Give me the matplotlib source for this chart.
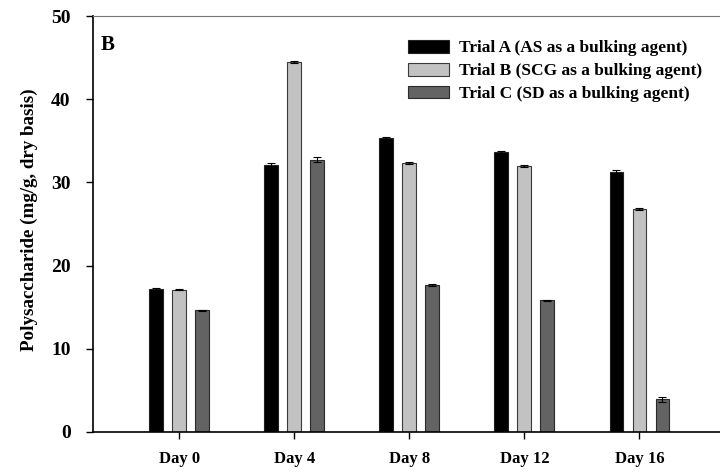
import numpy as np
import matplotlib
matplotlib.use('Agg')
from matplotlib import pyplot as plt

plt.rcParams['font.family'] = ['Liberation Serif', 'DejaVu Serif']
plt.rcParams['font.weight'] = 'bold'

days = ['Day 0', 'Day 4', 'Day 8', 'Day 12', 'Day 16']
trial_a = [17.2, 32.1, 35.3, 33.6, 31.3]
trial_b = [17.1, 44.5, 32.3, 32.0, 26.8]
trial_c = [14.6, 32.7, 17.7, 15.8, 3.9]
err_a = [0.1, 0.2, 0.2, 0.2, 0.2]
err_b = [0.1, 0.1, 0.1, 0.1, 0.1]
err_c = [0.1, 0.3, 0.1, 0.1, 0.3]
labels = ['Trial A (AS as a bulking agent)',
          'Trial B (SCG as a bulking agent)',
          'Trial C (SD as a bulking agent)']

fig = plt.figure(figsize=(7.2, 4.72), dpi=100)
ax = fig.add_axes([0.129, 0.085, 0.871, 0.881])

x = np.arange(len(days))
w = 0.12
off = 0.2
ax.bar(x - off, trial_a, w, yerr=err_a, color='black', edgecolor='#222222',
       linewidth=0.8, capsize=3, error_kw=dict(elinewidth=0.8, capthick=0.8), label=labels[0])
ax.bar(x, trial_b, w, yerr=err_b, color='#c2c2c2', edgecolor='#3a3a3a',
       linewidth=0.8, capsize=3, error_kw=dict(elinewidth=0.8, capthick=0.8), label=labels[1])
ax.bar(x + off, trial_c, w, yerr=err_c, color='#636363', edgecolor='#2a2a2a',
       linewidth=0.8, capsize=3, error_kw=dict(elinewidth=0.8, capthick=0.8), label=labels[2])

ax.set_xlim(-0.75, 4.70)
ax.set_ylim(0, 50)
ax.set_yticks([0, 10, 20, 30, 40, 50])
ax.set_xticks(x)
ax.set_xticklabels(days, fontsize=12, fontweight='bold')
ax.tick_params(axis='y', labelsize=14, direction='out', length=5, width=1, pad=11)
ax.tick_params(axis='x', direction='out', length=5, width=1, pad=9)
for t in ax.get_yticklabels():
    t.set_fontweight('bold')

ax.spines['right'].set_visible(False)
ax.spines['top'].set_color('#777777')
ax.spines['top'].set_linewidth(0.8)
ax.spines['left'].set_linewidth(1.2)
ax.spines['bottom'].set_linewidth(1.2)

ax.set_ylabel('Polysaccharide (mg/g, dry basis)', fontsize=13.7, fontweight='bold')
ax.yaxis.set_label_coords(-0.088, 0.51)
ax.text(0.012, 0.955, 'B', transform=ax.transAxes, fontsize=15, fontweight='bold', va='top')

ax.legend(loc='upper left', bbox_to_anchor=(0.477, 0.98), frameon=False,
          handlelength=2.4, handleheight=0.75, handletextpad=0.55, labelspacing=0.37,
          prop={'weight': 'bold', 'size': 12.5})

fig.savefig('out.png', dpi=100)
